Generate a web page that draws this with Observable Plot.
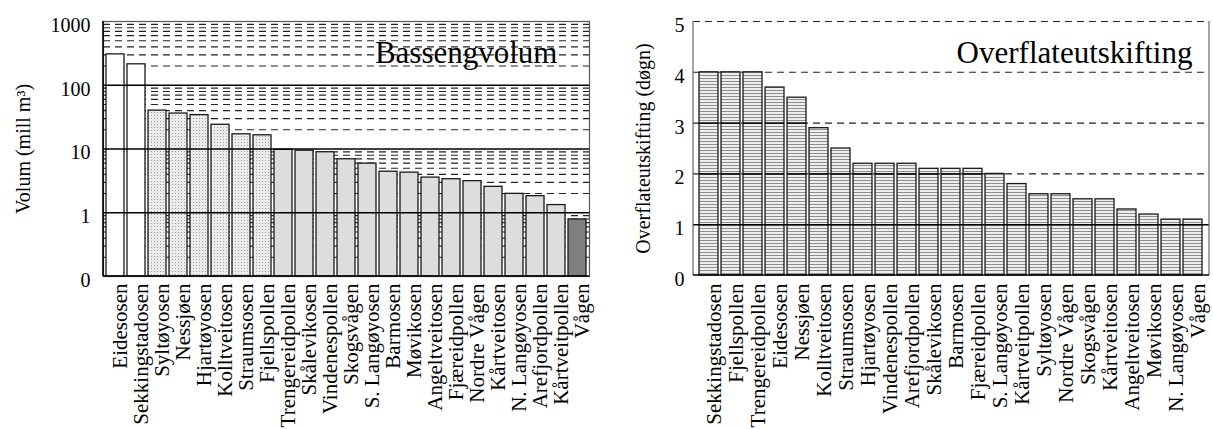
<!DOCTYPE html>
<html>
<head>
<meta charset="utf-8">
<script src="https://cdn.jsdelivr.net/npm/d3@7"></script>
<script src="https://cdn.jsdelivr.net/npm/@observablehq/plot@0.6"></script>
<style>
  html, body { margin: 0; padding: 0; background: #fff; }
  #wrap { display: flex; width: 1213px; height: 429px; }
  #wrap svg { display: block; }
  #wrap svg, #wrap svg text { font-family: "Liberation Serif", "Times New Roman", serif !important; }
</style>
</head>
<body>
<div id="wrap"></div>
<script>
// ---------- Left panel: Bassengvolum (log scale) ----------
const volTitle = "Bassengvolum";
const volYLabel = "Volum (mill m³)";
const volNames = ["Eidesosen", "Sekkingstadosen", "Syltøyosen", "Nessjøen", "Hjartøyosen", "Kolltveitosen",
  "Straumsosen", "Fjellspollen", "Trengereidpollen", "Skålevikosen", "Vindenespollen", "Skogsvågen",
  "S. Langøyosen", "Barmosen", "Møvikosen", "Angeltveitosen", "Fjæreidpollen", "Nordre Vågen",
  "Kårtveitosen", "N. Langøyosen", "Arefjordpollen", "Kårtveitpollen", "Vågen"];
const volValues = [305, 213, 40, 36, 34, 24, 17, 16.4, 9.7, 9.4, 8.9, 6.9, 5.9, 4.4, 4.26, 3.56, 3.36, 3.13,
  2.55, 1.98, 1.82, 1.32, 0.785];
const volGroups = ["stor", "stor", "middels", "middels", "middels", "middels", "middels", "middels",
  "liten", "liten", "liten", "liten", "liten", "liten", "liten", "liten", "liten", "liten",
  "liten", "liten", "liten", "liten", "minst"];
const volTicks = [0.1, 1, 10, 100, 1000];
const volTickLabels = ["0", "1", "10", "100", "1000"];
const volMajor = [1, 10, 100];
const volMinor = [0.2, 0.3, 0.4, 0.5, 0.6, 0.7, 0.8, 0.9,
  2, 3, 4, 5, 6, 7, 8, 9,
  20, 30, 40, 50, 60, 70, 80, 90,
  200, 300, 400, 500, 600, 700, 800, 900];

// ---------- Right panel: Overflateutskifting ----------
const ovTitle = "Overflateutskifting";
const ovYLabel = "Overflateutskifting (døgn)";
const ovNames = ["Sekkingstadosen", "Fjellspollen", "Trengereidpollen", "Eidesosen", "Nessjøen", "Kolltveitosen",
  "Straumsosen", "Hjartøyosen", "Vindenespollen", "Arefjordpollen", "Skålevikosen", "Barmosen",
  "Fjæreidpollen", "S. Langøyosen", "Kårtveitpollen", "Syltøyosen", "Nordre Vågen", "Skogsvågen",
  "Kårtveitosen", "Angeltveitosen", "Møvikosen", "N. Langøyosen", "Vågen"];
const ovValues = [4, 4, 4, 3.7, 3.5, 2.9, 2.5, 2.2, 2.2, 2.2, 2.1, 2.1, 2.1, 2.0, 1.8, 1.6, 1.6, 1.5, 1.5,
  1.3, 1.2, 1.1, 1.1];
const ovTicks = [0, 1, 2, 3, 4, 5];
const ovDashed = [2, 3, 4, 5];
const ovSolid = [1];

// ---------- helpers ----------
const NS = "http://www.w3.org/2000/svg";
function defsMark(inner) {
  return () => {
    const g = document.createElementNS(NS, "g");
    g.innerHTML = inner;
    return g;
  };
}
function edgesMark(sides, stroke, width) {
  return (index, scales, values, dims) => {
    const { width: W, height: H, marginLeft: ml, marginRight: mr, marginTop: mt, marginBottom: mb } = dims;
    const g = document.createElementNS(NS, "g");
    const x0 = ml, x1 = W - mr, y0 = mt, y1 = H - mb;
    const segs = { left: [x0, y0, x0, y1], right: [x1, y0, x1, y1], top: [x0, y0, x1, y0], bottom: [x0, y1, x1, y1] };
    for (const s of sides) {
      const l = document.createElementNS(NS, "line");
      const [a, b, c, d] = segs[s];
      l.setAttribute("x1", a); l.setAttribute("y1", b);
      l.setAttribute("x2", c); l.setAttribute("y2", d);
      l.setAttribute("stroke", stroke);
      l.setAttribute("stroke-width", width);
      g.appendChild(l);
    }
    return g;
  };
}

const FONT = "Liberation Serif";
const volIdx = volNames.map((_, i) => i);
const groupFill = { stor: "#ffffff", middels: "url(#dots)", liten: "#dddddd", minst: "#7f7f7f" };

const left = Plot.plot({
  width: 606,
  height: 429,
  marginLeft: 103,
  marginRight: 17,
  marginTop: 21,
  marginBottom: 153,
  style: { fontFamily: FONT, fontSize: "20px", color: "#000", background: "#fff" },
  x: { domain: volNames, paddingInner: 0.12, paddingOuter: 0.05, axis: null },
  y: { type: "log", domain: [0.1, 1000], axis: null },
  marks: [
    defsMark(`<defs><pattern id="dots" width="3" height="3" patternUnits="userSpaceOnUse">
      <rect width="3" height="3" fill="#ececec"/><rect x="1" y="1" width="1" height="1" fill="#a0a0a0"/>
      </pattern></defs>`),
    Plot.ruleY(volMinor, { stroke: "#222", strokeWidth: 1.1, strokeDasharray: "7,5" }),
    ...Object.keys(groupFill).map(gname =>
      Plot.barY(volIdx.filter(i => volGroups[i] === gname), {
        x: i => volNames[i], y1: 0.1, y2: i => volValues[i],
        fill: groupFill[gname], stroke: "#1a1a1a", strokeWidth: 1.3
      })
    ),
    Plot.ruleY(volMajor, { stroke: "#000", strokeWidth: 1.6 }),
    Plot.frame({ stroke: "#555", strokeWidth: 1.2 }),
    edgesMark(["left", "bottom"], "#000", 1.6),
    Plot.axisY({ ticks: volTicks, tickFormat: d => volTickLabels[volTicks.indexOf(d)], tickSize: 0,
      tickPadding: 13, dy: 4, label: null, fontSize: 20, fontFamily: FONT, fontVariant: "normal" }),
    Plot.text(volNames, { x: d => d, frameAnchor: "bottom", rotate: -90, textAnchor: "end",
      lineAnchor: "middle", dx: 5, dy: 7, fontSize: 21, fontFamily: FONT }),
    Plot.text([volYLabel], { frameAnchor: "left", rotate: -90, dx: -80, fontSize: 20, fontFamily: FONT,
      textAnchor: "middle", lineAnchor: "middle" }),
    Plot.text([volTitle], { frameAnchor: "top-right", textAnchor: "end", lineAnchor: "bottom",
      dx: -32, dy: 41, fontSize: 31, fontFamily: FONT })
  ]
});

const ovSegs = ovNames.flatMap((n, i) => ovDashed.filter(g => ovValues[i] > g + 1e-9).map(g => ({ n, g })));

const right = Plot.plot({
  width: 607,
  height: 429,
  marginLeft: 87,
  marginRight: 4,
  marginTop: 21,
  marginBottom: 154,
  style: { fontFamily: FONT, fontSize: "20px", color: "#000", background: "#fff" },
  x: { domain: ovNames, paddingInner: 0.13, paddingOuter: 0.06, axis: null },
  y: { domain: [0, 5], axis: null },
  marks: [
    defsMark(`<defs><pattern id="hatch" width="4" height="3" patternUnits="userSpaceOnUse">
      <rect width="4" height="3" fill="#eeeeee"/><rect y="0" width="4" height="1" fill="#8f8f8f"/>
      </pattern></defs>`),
    Plot.ruleY(ovDashed, { stroke: "#222", strokeWidth: 1.1, strokeDasharray: "7,5" }),
    Plot.barY(ovNames.map((n, i) => i), {
      x: i => ovNames[i], y1: 0, y2: i => ovValues[i],
      fill: "url(#hatch)", stroke: "#1a1a1a", strokeWidth: 1.3
    }),
    Plot.tickY(ovSegs, { x: "n", y: "g", stroke: "#000", strokeWidth: 1.6 }),
    Plot.ruleY(ovSolid, { stroke: "#000", strokeWidth: 1.6 }),
    edgesMark(["left", "right"], "#666", 1.2),
    edgesMark(["bottom"], "#000", 1.6),
    Plot.axisY({ ticks: ovTicks, tickFormat: d => String(d), tickSize: 0,
      tickPadding: 9, dy: 4, label: null, fontSize: 20, fontFamily: FONT, fontVariant: "normal" }),
    Plot.text(ovNames, { x: d => d, frameAnchor: "bottom", rotate: -90, textAnchor: "end",
      lineAnchor: "middle", dx: 5, dy: 8, fontSize: 21, fontFamily: FONT }),
    Plot.text([ovYLabel], { frameAnchor: "left", rotate: -90, dx: -50, fontSize: 20, fontFamily: FONT,
      textAnchor: "middle", lineAnchor: "middle" }),
    Plot.text([ovTitle], { frameAnchor: "top-right", textAnchor: "end", lineAnchor: "bottom",
      dx: -17, dy: 41, fontSize: 31, fontFamily: FONT })
  ]
});

const wrap = document.getElementById("wrap");
wrap.appendChild(left);
wrap.appendChild(right);
</script>
</body>
</html>
